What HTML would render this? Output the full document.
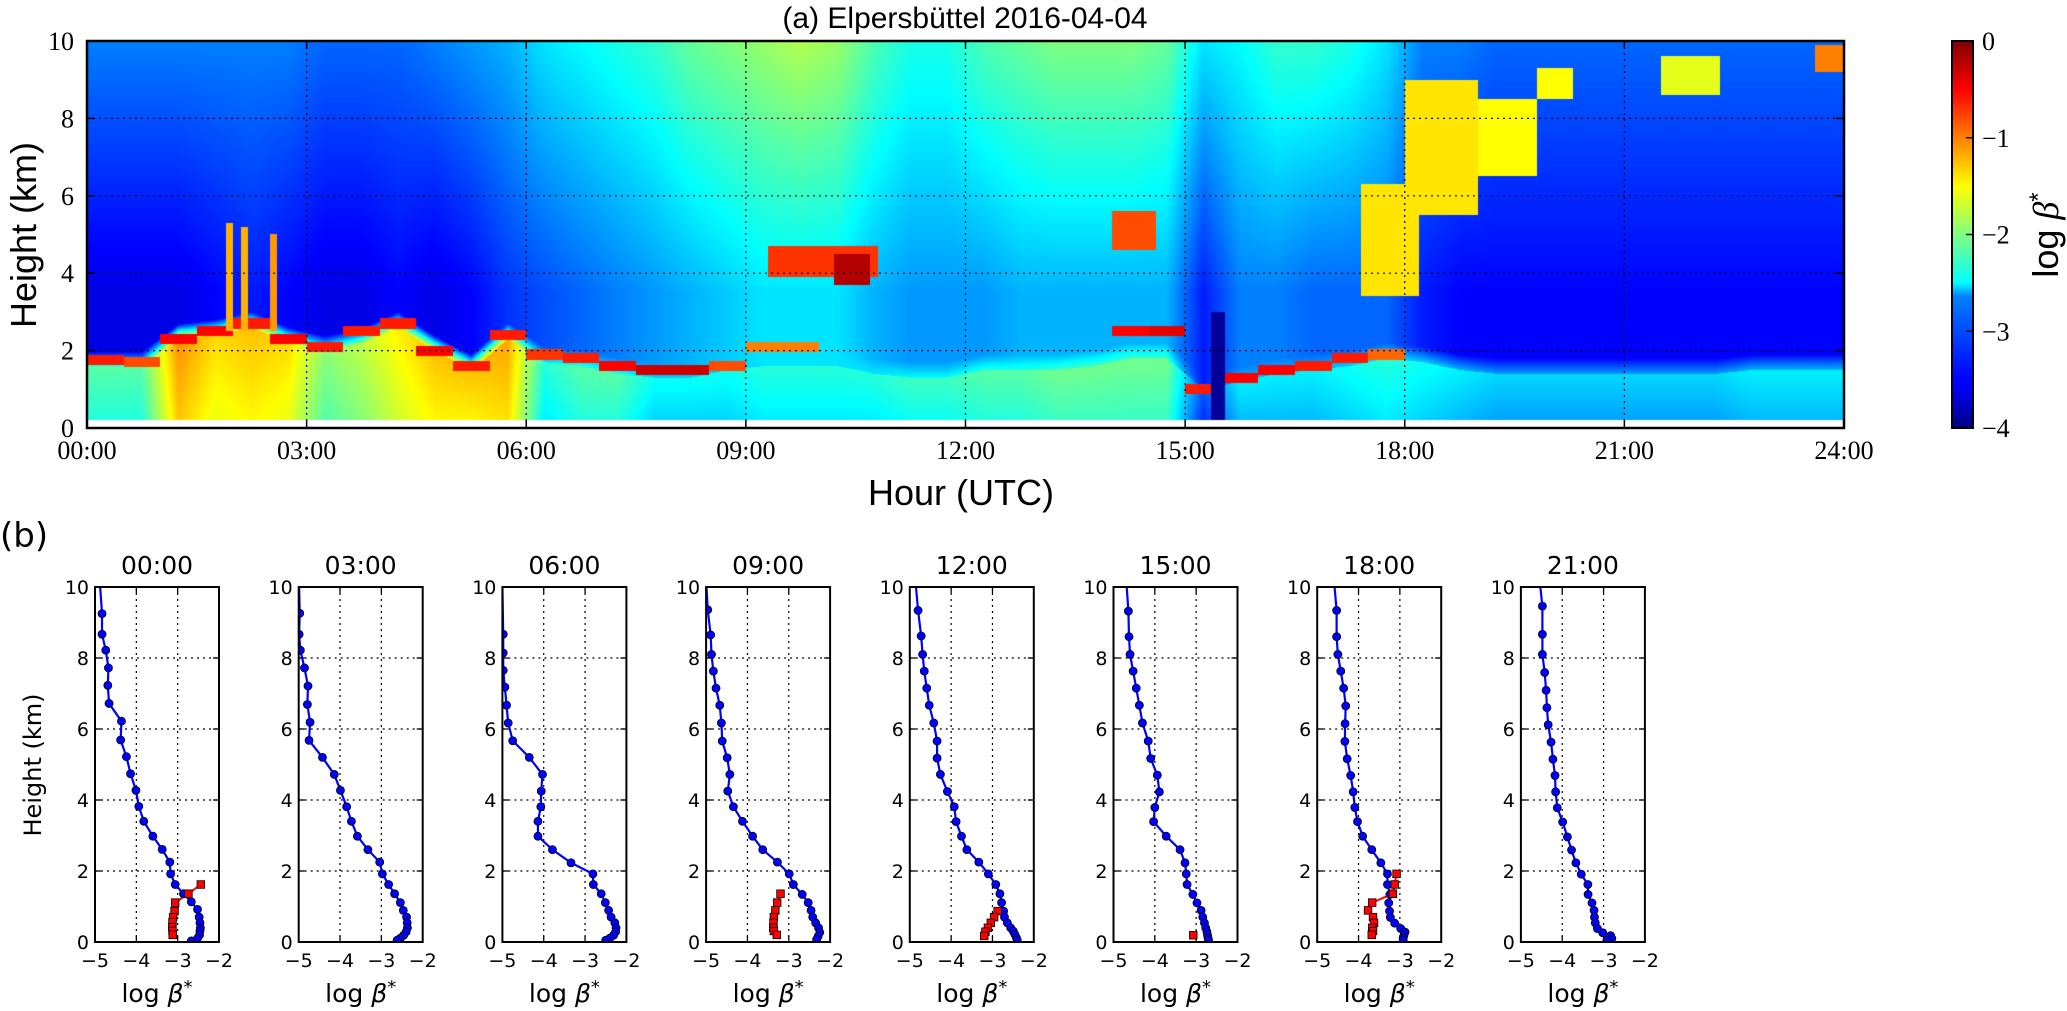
<!DOCTYPE html>
<html><head><meta charset="utf-8">
<style>
html,body{margin:0;padding:0;background:#fff;}
#wrap{position:relative;width:2067px;height:1011px;overflow:hidden;background:#fff;}
#hm{position:absolute;left:87px;top:41px;}
#ov{position:absolute;left:0;top:0;}
</style></head>
<body>
<div id="wrap">
<canvas id="hm" width="1757" height="387"></canvas>
<svg id="ov" width="2067" height="1011" xmlns="http://www.w3.org/2000/svg">
<defs>
<linearGradient id="jet" x1="0" y1="1" x2="0" y2="0">
<stop offset="0" stop-color="#000080"/><stop offset="0.11" stop-color="#0000ff"/><stop offset="0.125" stop-color="#0000ff"/>
<stop offset="0.34" stop-color="#0080ff"/><stop offset="0.375" stop-color="#00ffff"/><stop offset="0.5" stop-color="#80ff80"/>
<stop offset="0.625" stop-color="#ffff00"/><stop offset="0.75" stop-color="#ff8000"/><stop offset="0.875" stop-color="#ff0000"/><stop offset="1" stop-color="#800000"/>
</linearGradient>
</defs>
<g id="top"></g>
<g id="bottom"></g>
</svg>
</div>
<script>
// ===== Top panel data (0.5 h bins) =====
const upperVals=[-3.0,-3.0,-3.0,-3.0,-3.0,-3.0,-3.1,-3.1,-3.1,-3.0,-2.9,-2.8,-2.6,-2.5,-2.4,-2.3,-2.1,-2.0,-1.9,-1.8,-1.9,-2.2,-2.4,-2.4,-2.2,-2.1,-2.0,-2.0,-2.0,-2.1,-2.6,-2.5,-2.3,-2.3,-2.4,-2.6,-3.0,-3.0,-3.1,-3.1,-3.1,-3.1,-3.1,-3.1,-3.1,-3.1,-3.1,-3.1];
const midVals=[-3.6,-3.6,-3.6,-3.5,-3.4,-3.5,-3.6,-3.6,-3.5,-3.6,-3.5,-3.3,-3.2,-3.1,-3.0,-2.9,-2.8,-2.7,-2.6,-2.6,-2.6,-2.8,-2.9,-2.9,-2.9,-2.8,-2.8,-2.8,-2.8,-2.8,-3.4,-3.0,-3.0,-3.1,-3.1,-3.1,-3.4,-3.5,-3.5,-3.5,-3.5,-3.5,-3.5,-3.5,-3.5,-3.5,-3.5,-3.5];
const lowVals=[-2.4,-2.4,-1.3,-1.6,-1.5,-1.6,-2.2,-2.0,-1.7,-1.5,-1.5,-1.4,-2.6,-2.4,-2.4,-2.7,-2.7,-2.7,-2.6,-2.6,-2.6,-2.6,-2.5,-2.5,-2.4,-2.4,-2.3,-2.3,-2.3,-2.3,-3.4,-2.8,-2.8,-2.8,-2.7,-2.6,-2.7,-2.8,-2.9,-2.9,-2.9,-2.9,-2.9,-2.9,-2.9,-2.8,-2.8,-2.8];
const blTops=[1.6,1.6,2.3,2.4,2.6,2.2,2.0,2.2,2.6,2.0,1.5,2.3,1.7,1.6,1.4,1.3,1.3,1.5,1.6,1.6,1.6,1.4,1.3,1.3,1.5,1.5,1.5,1.6,1.8,1.8,1.0,1.2,1.4,1.5,1.6,1.8,1.7,1.5,1.4,1.4,1.4,1.4,1.4,1.4,1.4,1.5,1.5,1.5];
const cloudHs=[1.75,1.7,2.3,2.5,2.7,2.3,2.1,2.5,2.7,2.0,1.6,2.4,1.9,1.8,1.6,1.5,1.5,1.6,2.1,2.1,0,0,0,0,0,0,0,0,2.5,2.5,1.0,1.3,1.5,1.6,1.8,1.9,0,0,0,0,0,0,0,0,0,0,0,0];
const cloudVs=[-0.6,-0.8,-0.5,-0.5,-0.6,-0.5,-0.6,-0.6,-0.6,-0.5,-0.6,-0.6,-0.7,-0.6,-0.5,-0.3,-0.3,-0.8,-1.0,-1.0,0,0,0,0,0,0,0,0,-0.5,-0.4,-0.6,-0.5,-0.5,-0.6,-0.6,-0.9,0,0,0,0,0,0,0,0,0,0,0,0];
// patches: [startHour, endHour, bottomKm, topKm, logBeta]
const patches=[[1.9,2.0,2.5,5.3,-1.2],[2.1,2.2,2.5,5.2,-1.2],[2.5,2.6,2.5,5.0,-1.1],
[9.3,10.8,3.9,4.7,-0.7],[10.2,10.7,3.7,4.5,-0.2],[14.0,14.6,4.6,5.6,-0.8],
[17.4,18.2,3.4,6.3,-1.4],[18.0,19.0,5.5,9.0,-1.4],[19.0,19.8,6.5,8.5,-1.5],[19.8,20.3,8.5,9.3,-1.5],
[21.5,22.3,8.6,9.6,-1.6],[23.6,24.0,9.2,9.9,-1.0],[15.35,15.55,0,3.0,-3.9]];
const hourTicks=["00:00","03:00","06:00","09:00","12:00","15:00","18:00","21:00","24:00"];
const heightTicks=[0,2,4,6,8,10];
const cbTicks=[0,-1,-2,-3,-4];

// ===== Profile data (log beta*, height km) =====
const panelTitles=["00:00","03:00","06:00","09:00","12:00","15:00","18:00","21:00"];
const topX=[-4.875,-4.99,-5.0,-4.99,-4.85,-4.68,-4.58,-4.53];
const blueX=[
[-4.83,-4.83,-4.74,-4.675,-4.69,-4.66,-4.36,-4.38,-4.24,-4.14,-4.01,-3.94,-3.82,-3.6,-3.375,-3.19,-3.17,-3.06,-2.86,-2.67,-2.52,-2.48,-2.46,-2.45,-2.46,-2.47,-2.52,-2.67],
[-4.975,-4.99,-4.96,-4.86,-4.775,-4.79,-4.725,-4.75,-4.425,-4.14,-3.99,-3.84,-3.725,-3.58,-3.325,-3.04,-2.975,-2.825,-2.68,-2.54,-2.47,-2.39,-2.375,-2.37,-2.4,-2.46,-2.54,-2.62],
[-4.98,-4.98,-4.98,-4.94,-4.9,-4.86,-4.75,-4.35,-4.03,-4.06,-4.07,-4.14,-4.14,-3.79,-3.34,-2.81,-2.8,-2.61,-2.51,-2.43,-2.37,-2.28,-2.25,-2.26,-2.31,-2.4,-2.5],
[-4.96,-4.89,-4.87,-4.825,-4.76,-4.67,-4.63,-4.61,-4.49,-4.425,-4.475,-4.34,-4.12,-3.875,-3.63,-3.275,-2.99,-2.89,-2.675,-2.53,-2.46,-2.42,-2.35,-2.28,-2.25,-2.29,-2.325],
[-4.8,-4.725,-4.69,-4.65,-4.59,-4.53,-4.42,-4.34,-4.34,-4.26,-4.09,-3.925,-3.88,-3.75,-3.62,-3.33,-3.1,-2.92,-2.82,-2.78,-2.73,-2.71,-2.64,-2.56,-2.5,-2.46,-2.42,-2.4],
[-4.64,-4.625,-4.6,-4.525,-4.45,-4.375,-4.3,-4.16,-4.1,-3.94,-3.89,-4.0,-4.03,-3.725,-3.39,-3.27,-3.24,-3.22,-3.08,-2.98,-2.88,-2.84,-2.8,-2.77,-2.74,-2.725,-2.71,-2.7],
[-4.53,-4.53,-4.5,-4.43,-4.36,-4.31,-4.325,-4.33,-4.275,-4.19,-4.13,-4.09,-4.025,-3.9,-3.68,-3.46,-3.3,-3.3,-3.24,-3.27,-3.25,-3.23,-3.125,-2.98,-2.875,-2.9,-2.92,-2.92],
[-4.48,-4.48,-4.48,-4.425,-4.39,-4.37,-4.34,-4.27,-4.225,-4.175,-4.16,-4.12,-3.99,-3.875,-3.775,-3.67,-3.54,-3.38,-3.375,-3.28,-3.23,-3.22,-3.2,-3.15,-3.02,-2.83,-2.8,-2.92]];
const blueH=[
[9.25,8.67,8.22,7.72,7.23,6.72,6.22,5.69,5.22,4.74,4.27,3.82,3.4,2.98,2.61,2.25,1.92,1.62,1.36,1.13,0.92,0.7,0.54,0.40,0.31,0.2,0.1,0.03],
[9.26,8.67,8.22,7.72,7.21,6.69,6.19,5.68,5.2,4.72,4.27,3.81,3.4,2.98,2.6,2.25,1.92,1.62,1.36,1.11,0.89,0.7,0.54,0.40,0.29,0.19,0.11,0.05],
[8.67,8.14,7.65,7.18,6.67,6.17,5.67,5.2,4.72,4.25,3.81,3.4,2.98,2.6,2.23,1.92,1.62,1.36,1.11,0.89,0.7,0.54,0.40,0.29,0.19,0.11,0.05],
[9.36,8.65,8.1,7.63,7.15,6.67,6.17,5.66,5.19,4.72,4.25,3.81,3.4,2.98,2.6,2.25,1.92,1.62,1.34,1.11,0.89,0.7,0.54,0.4,0.27,0.16,0.07],
[9.34,8.62,8.1,7.63,7.15,6.67,6.17,5.66,5.18,4.72,4.24,3.81,3.39,2.98,2.6,2.25,1.92,1.62,1.36,1.11,0.87,0.7,0.54,0.4,0.31,0.22,0.12,0.05],
[9.32,8.6,8.1,7.63,7.15,6.67,6.17,5.66,5.17,4.7,4.23,3.79,3.39,2.98,2.6,2.23,1.92,1.62,1.34,1.1,0.89,0.7,0.54,0.4,0.29,0.19,0.1,0.05],
[9.34,8.6,8.1,7.63,7.15,6.65,6.15,5.65,5.16,4.69,4.23,3.79,3.39,2.98,2.6,2.23,1.92,1.62,1.34,1.1,0.87,0.69,0.53,0.38,0.28,0.19,0.1,0.05],
[9.46,8.67,8.1,7.59,7.09,6.6,6.12,5.63,5.15,4.69,4.23,3.78,3.38,2.96,2.59,2.23,1.91,1.62,1.34,1.1,0.89,0.7,0.54,0.38,0.26,0.18,0.1,0.05]];
const redX=[
[-2.44,-2.74,-3.06,-3.075,-3.11,-3.125,-3.13,-3.125,-3.12],
[],[],
[-3.2,-3.28,-3.325,-3.36,-3.37,-3.375,-3.36,-3.29],
[-2.875,-2.96,-3.04,-3.11,-3.17,-3.2],
[-3.07],
[-3.08,-3.125,-3.17,-3.67,-3.77,-3.65,-3.625,-3.67,-3.65,-3.68],
[]];
const redH=[
[1.62,1.36,1.11,0.87,0.7,0.56,0.42,0.31,0.2],
[],[],
[1.36,1.11,0.89,0.7,0.54,0.4,0.31,0.2],
[0.87,0.7,0.54,0.4,0.29,0.17],
[0.19],
[1.92,1.62,1.36,1.11,0.89,0.7,0.54,0.4,0.31,0.2],
[]];
const profXTicks=[-5,-4,-3,-2];
const profYTicks=[0,2,4,6,8,10];

// ===== geometry =====
const T={l:87,r:1844,t:41,b:428};
const tx=h=>T.l+(T.r-T.l)*h/24;
const ty=k=>T.b-(T.b-T.t)*k/10;
const P={l0:95,dx:203.7,w:124,t:587,b:942};
const NS="http://www.w3.org/2000/svg";
function mk(tag,attrs,parent,text){const e=document.createElementNS(NS,tag);for(const k in attrs)e.setAttribute(k,attrs[k]);if(text!==undefined)e.textContent=text;parent.appendChild(e);return e;}
const minus=s=>String(s).replace('-','\u2212');

function jet(v){let t=(v+4)/4;t=Math.max(0,Math.min(1,t));
 const c=x=>Math.max(0,Math.min(1,x));
 return [c(1.5-Math.abs(4*t-3))*255,c(1.5-Math.abs(4*t-2))*255,c(1.5-Math.abs(4*t-1))*255];}

// ===== heatmap =====
(function(){
 const cv=document.getElementById('hm');const ctx=cv.getContext('2d');
 const W=cv.width,H=cv.height;const img=ctx.createImageData(W,H);const d=img.data;
 const n=upperVals.length;
 const lerpArr=(a,f)=>{let i=Math.floor(f);let fr=f-i;if(i<0){i=0;fr=0;}if(i>=n-1){i=n-2;fr=1;}return a[i]*(1-fr)+a[i+1]*fr;};
 for(let px=0;px<W;px++){
  const t=(px+0.5)/W*24;const f=t/0.5-0.5;const ni=Math.min(n-1,Math.max(0,Math.floor(t/0.5)));
  const up=lerpArr(upperVals,f),mid=lerpArr(midVals,f),low=lerpArr(lowVals,f),bl=lerpArr(blTops,f);
  const ch=cloudHs[ni],cvv=cloudVs[ni];
  for(let py=0;py<H;py++){
   const h=10-(py+0.5)/H*10;const o=(py*W+px)*4;
   if(h<0.2){d[o]=255;d[o+1]=255;d[o+2]=255;d[o+3]=255;continue;}
   let v;
   if(h<bl)v=low+0.25*(h/bl);
   else if(h<3.5){const blend=Math.min(1,(h-bl)/0.4);v=low*(1-blend)+mid*blend;}
   else v=mid+(up-mid)*(h-3.5)/6.5;
   if(ch>0&&Math.abs(h-ch)<0.13)v=cvv;
   for(const p of patches){if(t>=p[0]&&t<=p[1]&&h>=p[2]&&h<=p[3]){v=p[4];}}
   const c=jet(v);d[o]=c[0];d[o+1]=c[1];d[o+2]=c[2];d[o+3]=255;
  }
 }
 ctx.putImageData(img,0,0);
})();

// ===== top panel axes =====
(function(){
 const g=document.getElementById('top');
 const grid=mk('g',{},g);
 hourTicks.forEach((lb,i)=>{const x=tx(i*3);
  if(i>0&&i<8){mk('line',{x1:x,y1:T.t,x2:x,y2:T.b,stroke:'#000','stroke-width':1.2,'stroke-dasharray':'2,4'},grid);}
  mk('line',{x1:x,y1:T.b,x2:x,y2:T.b-8,stroke:'#000','stroke-width':1.5},g);
  mk('line',{x1:x,y1:T.t,x2:x,y2:T.t+8,stroke:'#000','stroke-width':1.5},g);
  const t=mk('text',{x:x,y:459,'font-family':'Liberation Serif, serif','font-size':26,'text-anchor':'middle'},g,lb);
  
 });
 heightTicks.forEach(k=>{const y=ty(k);
  if(k>0&&k<10){mk('line',{x1:T.l,y1:y,x2:T.r,y2:y,stroke:'#000','stroke-width':1.2,'stroke-dasharray':'2,4'},grid);}
  mk('line',{x1:T.l,y1:y,x2:T.l+8,y2:y,stroke:'#000','stroke-width':1.5},g);
  mk('line',{x1:T.r,y1:y,x2:T.r-8,y2:y,stroke:'#000','stroke-width':1.5},g);
  const t=mk('text',{x:74,y:y+9,'font-family':'Liberation Serif, serif','font-size':26,'text-anchor':'end'},g,String(k));
  
 });
 const fr=mk('rect',{x:T.l,y:T.t,width:T.r-T.l,height:T.b-T.t,fill:'none',stroke:'#000','stroke-width':2.5},g);
 
 const ti=mk('text',{x:965,y:28,'font-family':'Liberation Sans, sans-serif','font-size':30,'text-anchor':'middle'},g,'(a) Elpersbüttel 2016-04-04');
 
 const xl=mk('text',{x:961,y:505,'font-family':'Liberation Sans, sans-serif','font-size':36,'text-anchor':'middle'},g,'Hour (UTC)');
 
 const yl=mk('text',{x:0,y:0,'font-family':'Liberation Sans, sans-serif','font-size':36,'text-anchor':'middle',transform:'translate(36,235) rotate(-90)'},g,'Height (km)');
 
 // colorbar
 const cb=mk('rect',{x:1952,y:T.t,width:21,height:T.b-T.t,fill:'url(#jet)',stroke:'#000','stroke-width':2},g);
 
 cbTicks.forEach(v=>{const y=T.t+(T.b-T.t)*(-v)/4;
  mk('line',{x1:1973,y1:y,x2:1966,y2:y,stroke:'#000','stroke-width':1.5},g);
  const t=mk('text',{x:1982,y:y+9,'font-family':'Liberation Serif, serif','font-size':26},g,minus(v));
  
 });
 const cl=mk('text',{x:0,y:0,'font-family':'Liberation Sans, sans-serif','font-size':36,'text-anchor':'middle',transform:'translate(2058,235) rotate(-90)'},g);
 
 mk('tspan',{},cl,'log ');mk('tspan',{'font-style':'italic','font-family':'Liberation Serif, serif'},cl,'β');mk('tspan',{dy:-12,'font-size':24},cl,'*');
})();

// ===== profiles =====
(function(){
 const g=document.getElementById('bottom');
 const bl=mk('text',{x:0,y:547,'font-family':'DejaVu Sans, sans-serif','font-size':34},g,'(b)');
 
 const yl=mk('text',{x:0,y:0,'font-family':'DejaVu Sans, sans-serif','font-size':24,'text-anchor':'middle',transform:'translate(41,765) rotate(-90)'},g,'Height (km)');
 
 panelTitles.forEach((title,i)=>{
  const L=P.l0+P.dx*i,R=L+P.w;
  const px=v=>L+(v+5)/3*P.w;const py=k=>P.b-(P.b-P.t)*k/10;
  const pg=mk('g',{},g);
  profXTicks.forEach(v=>{const x=px(v);
   if(v>-5&&v<-2)mk('line',{x1:x,y1:P.t,x2:x,y2:P.b,stroke:'#000','stroke-width':1.2,'stroke-dasharray':'2,4'},pg);
   mk('line',{x1:x,y1:P.b,x2:x,y2:P.b-6,stroke:'#000','stroke-width':1.3},pg);
   mk('line',{x1:x,y1:P.t,x2:x,y2:P.t+6,stroke:'#000','stroke-width':1.3},pg);
   const t=mk('text',{x:x,y:967,'font-family':'DejaVu Sans, sans-serif','font-size':19,'text-anchor':'middle'},pg,minus(v));
   
  });
  profYTicks.forEach(k=>{const y=py(k);
   if(k>0&&k<10)mk('line',{x1:L,y1:y,x2:R,y2:y,stroke:'#000','stroke-width':1.2,'stroke-dasharray':'2,4'},pg);
   mk('line',{x1:L,y1:y,x2:L+6,y2:y,stroke:'#000','stroke-width':1.3},pg);
   mk('line',{x1:R,y1:y,x2:R-6,y2:y,stroke:'#000','stroke-width':1.3},pg);
   const t=mk('text',{x:L-6,y:y+7,'font-family':'DejaVu Sans, sans-serif','font-size':19,'text-anchor':'end'},pg,String(k));
   
  });
  const clip='clip'+i;
  const cp=mk('clipPath',{id:clip},pg);mk('rect',{x:L,y:P.t,width:P.w,height:P.b-P.t},cp);
  const dg=mk('g',{'clip-path':'url(#'+clip+')'},pg);
  // red series
  if(redX[i].length){
   const pts=redX[i].map((v,j)=>px(v)+','+py(redH[i][j])).join(' ');
   const rl=mk('polyline',{points:pts,fill:'none',stroke:'#ff0000','stroke-width':2},dg);
   
  }
  // blue series
  const bpts=[px(topX[i])+','+py(10)].concat(blueX[i].map((v,j)=>px(v)+','+py(blueH[i][j]))).join(' ');
  const bl2=mk('polyline',{points:bpts,fill:'none',stroke:'#0000ff','stroke-width':2.2},dg);
  
  blueX[i].forEach((v,j)=>{
   const c=mk('circle',{cx:px(v),cy:py(blueH[i][j]),r:4,fill:'#0000ff',stroke:'#000','stroke-width':0.8},dg);
   
  });
  redX[i].forEach((v,j)=>{
   const s=mk('rect',{x:px(v)-3.8,y:py(redH[i][j])-3.8,width:7.6,height:7.6,fill:'#ff0000',stroke:'#000','stroke-width':0.8},dg);
   
  });
  const fr=mk('rect',{x:L,y:P.t,width:P.w,height:P.b-P.t,fill:'none',stroke:'#000','stroke-width':2},pg);
  
  const tt=mk('text',{x:L+P.w/2,y:574,'font-family':'DejaVu Sans, sans-serif','font-size':25,'text-anchor':'middle'},pg,title);
  
  const xl=mk('text',{x:L+P.w/2,y:1002,'font-family':'DejaVu Sans, sans-serif','font-size':25,'text-anchor':'middle'},pg);
  
  mk('tspan',{},xl,'log ');mk('tspan',{'font-style':'italic'},xl,'β');mk('tspan',{dy:-9,'font-size':18},xl,'*');
 });
})();
</script>
</body></html>
